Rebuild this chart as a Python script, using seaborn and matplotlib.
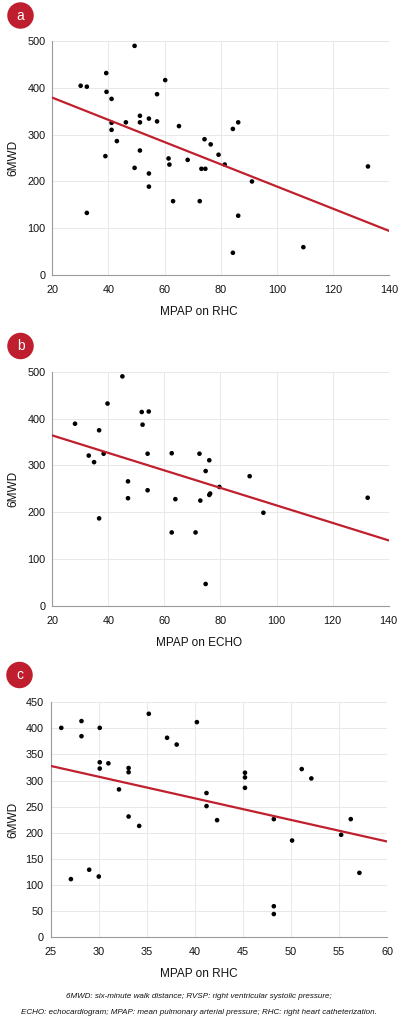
import numpy as np
import pandas as pd
import matplotlib
matplotlib.use('Agg')
import matplotlib.pyplot as plt
import seaborn as sns

# panel a: MPAP on RHC vs 6MWD
a_x = [30.1, 32.3, 39.2, 39.3, 41.1, 41.1, 41.1, 38.9, 32.3, 43.0, 46.2, 49.3, 49.3, 51.2,
       51.2, 51.2, 54.4, 54.4, 54.4, 57.3, 57.3, 60.2, 61.4, 61.7, 63.0, 65.1, 68.2, 72.5,
       73.1, 74.5, 74.2, 76.4, 79.2, 81.4, 84.3, 86.2, 86.2, 84.3, 91.1, 109.4, 132.4]
a_y = [404, 402, 431, 391, 376, 325, 310, 254, 133, 286, 326, 489, 229, 340,
       326, 266, 334, 217, 189, 386, 328, 416, 249, 236, 158, 318, 246, 158,
       227, 227, 290, 279, 257, 236, 312, 326, 127, 48, 200, 60, 232]
a_trend_x = [20, 140]
a_trend_y = [378.6, 94.5]

# panel b: MPAP on ECHO vs 6MWD
b_x = [28.1, 33.0, 34.9, 36.7, 36.7, 38.3, 39.7, 45.0, 47.0, 47.0, 51.9, 52.2, 54.4, 54.0,
       54.0, 62.6, 62.6, 63.9, 71.1, 72.5, 72.8, 74.7, 74.7, 76.0, 76.0, 76.3, 79.6, 90.4,
       95.3, 132.5]
b_y = [389, 321, 307, 375, 187, 325, 432, 490, 266, 230, 414, 387, 415, 325,
       247, 326, 157, 228, 157, 325, 225, 288, 47, 311, 237, 240, 254, 277,
       199, 231]
b_trend_x = [20, 140]
b_trend_y = [364, 140]

# panel c: MPAP on RHC vs 6MWD
c_x = [26.1, 28.2, 28.2, 27.1, 29.0, 30.0, 30.1, 30.1, 30.1, 31.0, 32.1, 33.1, 33.1, 33.1,
       34.2, 35.2, 37.1, 38.1, 40.2, 41.2, 41.2, 42.3, 45.2, 45.2, 45.2, 48.2, 48.2, 48.2,
       50.1, 51.1, 52.1, 55.2, 56.2, 57.1]
c_y = [401, 414, 385, 111, 129, 116, 401, 335, 323, 333, 283, 324, 316, 231,
       213, 428, 382, 369, 412, 276, 251, 224, 315, 306, 286, 226, 59, 44,
       185, 322, 304, 196, 226, 123]
c_trend_x = [25, 60]
c_trend_y = [328, 183]

panels = [
    ('a', a_x, a_y, a_trend_x, a_trend_y, 'MPAP on RHC', (20, 140), np.arange(20, 141, 20), (0, 500), np.arange(0, 501, 100)),
    ('b', b_x, b_y, b_trend_x, b_trend_y, 'MPAP on ECHO', (20, 140), np.arange(20, 141, 20), (0, 500), np.arange(0, 501, 100)),
    ('c', c_x, c_y, c_trend_x, c_trend_y, 'MPAP on RHC', (25, 60), np.arange(25, 61, 5), (0, 450), np.arange(0, 451, 50)),
]

sns.set_style('white')
plt.rcParams['font.family'] = ['Liberation Sans', 'DejaVu Sans']

W, H = 398, 1032
fig = plt.figure(figsize=(W / 100, H / 100), dpi=100)

# axes boxes in pixels: left, top, right, bottom
boxes = [(52.3, 40.7, 389.3, 275.3), (52.3, 371.7, 388.7, 606.0), (50.7, 702.3, 387.3, 937.0)]
badges = [(20.5, 15.5), (20.5, 346.0), (19.5, 675.0)]

red = '#C0202E'
txt = '#111111'
for (lab, x, y, tx, ty, xlabel, xlim, xticks, ylim, yticks), box, bpos in zip(panels, boxes, badges):
    l, t, r, b = box
    ax = fig.add_axes([l / W, 1 - b / H, (r - l) / W, (b - t) / H])
    df = pd.DataFrame({'x': x, 'y': y})
    sns.scatterplot(data=df, x='x', y='y', ax=ax, color='black', s=11, edgecolor='none', zorder=3)
    tr = pd.DataFrame({'x': tx, 'y': ty})
    sns.lineplot(data=tr, x='x', y='y', ax=ax, color=red, linewidth=1.6, zorder=4)
    ax.set_xlim(*xlim)
    ax.set_ylim(*ylim)
    ax.set_xticks(xticks)
    ax.set_yticks(yticks)
    ax.grid(True, color='#e8e8e8', linewidth=0.7)
    ax.set_axisbelow(True)
    for s in ['top', 'right']:
        ax.spines[s].set_visible(False)
    for s in ['left', 'bottom']:
        ax.spines[s].set_color('#9a9a9a')
        ax.spines[s].set_linewidth(0.8)
    ax.tick_params(axis='both', length=0, labelsize=7.8, colors=txt)
    ax.tick_params(axis='x', pad=7)
    ax.tick_params(axis='y', pad=5)
    ax.set_xlabel(xlabel, fontsize=8.5, color=txt)
    ax.set_ylabel('6MWD', fontsize=8.5, color=txt)
    ax.xaxis.set_label_coords((199 - l) / (r - l), -(37 / (b - t)))
    ax.yaxis.set_label_coords((13 - l) / (r - l), 0.5)
    ax.xaxis.label.set_va('center')
    ax.yaxis.label.set_va('center')
    fig.text(bpos[0] / W, 1 - bpos[1] / H, lab, ha='center', va='center', color='white',
             fontsize=10,
             bbox=dict(boxstyle='circle,pad=0.45', fc='#BE1E2D', ec='none'))

fig.text(0.5, 1 - 997 / H, '6MWD: six-minute walk distance; RVSP: right ventricular systolic pressure;',
         ha='center', va='center', fontsize=5.8, style='italic', color=txt)
fig.text(0.5, 1 - 1012.5 / H, 'ECHO: echocardiogram; MPAP: mean pulmonary arterial pressure; RHC: right heart catheterization.',
         ha='center', va='center', fontsize=5.8, style='italic', color=txt)

fig.savefig('out.png', dpi=100)
